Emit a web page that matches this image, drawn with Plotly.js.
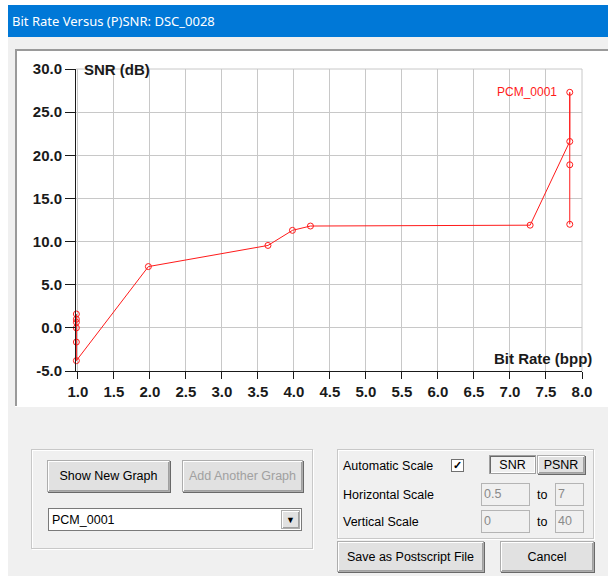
<!DOCTYPE html>
<html>
<head>
<meta charset="utf-8">
<script src="https://cdn.plot.ly/plotly-3.0.1.min.js"></script>
<style>
  html, body { margin:0; padding:0; width:608px; height:576px; overflow:hidden; background:#f0f0f0; }
  body { position:relative; font-family:"Liberation Sans", Arial, sans-serif; }
  .abs { position:absolute; }
  #titlebar { left:8px; top:5px; width:600px; height:32px; background:#0078d7; color:#fff;
     font-family:"Noto Sans","Open Sans",sans-serif; font-size:13px; line-height:32px; }
  #titlebar span { position:absolute; left:4px; top:0; }
  #chart { left:17px; top:51px; width:591px; height:355px; }
  .grp { border:1px solid #c8c8c8; box-shadow: inset 1px 1px 0 #ffffff, 1px 1px 0 #ffffff; box-sizing:border-box; }
  .wbtn { background:#e1e1e1; border:1px solid #adadad; box-sizing:border-box; font-size:12.5px; color:#000;
     display:flex; align-items:center; justify-content:center;
     box-shadow: inset 1px 1px 0 #ffffff, inset -1px -1px 0 #a0a0a0, 1px 1px 0 #696969; }
  .wdis { color:#a0a0a0; }
  .wlbl { font-size:12.5px; color:#000; line-height:14px; }
  .wedit { background:#f0f0f0; border:1px solid #b4b4b4; box-sizing:border-box; font-size:12.5px; color:#8a8a8a; padding-left:2px; line-height:20px; }
  .wcombo { background:#ffffff; border:1px solid #7a7a7a; box-sizing:border-box; font-size:12.5px; color:#000; }
</style>
</head>
<body>
<div class="abs" style="left:0;top:0;width:608px;height:5px;background:#fff;"></div>
<div class="abs" style="left:0;top:0;width:8px;height:576px;background:#fff;"></div>
<div id="titlebar" class="abs"><span>Bit Rate Versus (P)SNR: DSC_0028</span></div>
<div class="abs" style="left:15px;top:49px;width:593px;height:2px;background:#9a9a9a;"></div>
<div class="abs" style="left:15px;top:49px;width:2px;height:357px;background:#9a9a9a;"></div>
<div class="abs" style="left:15px;top:406px;width:593px;height:1px;background:#ffffff;"></div>
<div id="chart" class="abs"></div>

<div class="abs grp" style="left:31px;top:449px;width:282px;height:100px;"></div>
<div class="abs wbtn" style="left:47px;top:460px;width:123px;height:32px;">Show New Graph</div>
<div class="abs wbtn wdis" style="left:182px;top:460px;width:121px;height:32px;">Add Another Graph</div>
<div class="abs wcombo" style="left:48px;top:508px;width:254px;height:23px;">
  <span class="abs" style="left:3px;top:4px;">PCM_0001</span>
  <div class="abs wbtn" style="left:232px;top:1px;width:19px;height:19px;font-size:9px;box-shadow: inset 1px 1px 0 #fff, inset -1px -1px 0 #a0a0a0;">&#9660;</div>
</div>

<div class="abs grp" style="left:337px;top:449px;width:257px;height:90px;"></div>
<div class="abs wlbl" style="left:343px;top:459px;">Automatic Scale</div>
<div class="abs" style="left:451px;top:459px;width:13px;height:13px;background:#fff;border:1px solid #707070;box-sizing:border-box;font-size:11px;line-height:11px;text-align:center;font-weight:bold;">&#10003;</div>
<div class="abs wbtn" style="left:489px;top:455px;width:47px;height:19px;background:#f0f0f0;box-shadow: inset 1px 1px 0 #696969, inset -1px -1px 0 #ffffff;border-color:#a0a0a0;">SNR</div>
<div class="abs wbtn" style="left:537px;top:455px;width:48px;height:19px;">PSNR</div>
<div class="abs wlbl" style="left:343px;top:488px;">Horizontal Scale</div>
<div class="abs wedit" style="left:481px;top:483px;width:49px;height:23px;">0.5</div>
<div class="abs wlbl" style="left:537px;top:488px;">to</div>
<div class="abs wedit" style="left:555px;top:483px;width:29px;height:23px;">7</div>
<div class="abs wlbl" style="left:343px;top:515px;">Vertical Scale</div>
<div class="abs wedit" style="left:481px;top:510px;width:49px;height:23px;">0</div>
<div class="abs wlbl" style="left:537px;top:515px;">to</div>
<div class="abs wedit" style="left:555px;top:510px;width:29px;height:23px;">40</div>
<div class="abs wbtn" style="left:337px;top:541px;width:147px;height:31px;">Save as Postscript File</div>
<div class="abs wbtn" style="left:500px;top:541px;width:94px;height:31px;">Cancel</div>

<script>
// ---- data ----
const seriesName = "PCM_0001";
const bitRate = [0.98, 0.98, 0.98, 0.98, 0.98, 0.98, 1.98, 3.64, 3.98, 4.23, 7.28, 7.83, 7.83, 7.83, 7.83];
const snr     = [1.6, 1.0, 0.65, 0.0, -1.65, -3.8, 7.1, 9.55, 11.3, 11.8, 11.9, 21.6, 27.3, 18.9, 12.0];
const xTicks = [1.0, 1.5, 2.0, 2.5, 3.0, 3.5, 4.0, 4.5, 5.0, 5.5, 6.0, 6.5, 7.0, 7.5, 8.0];
const yTicks = [-5, 0, 5, 10, 15, 20, 25, 30];
const xTitle = "Bit Rate (bpp)";
const yTitle = "SNR (dB)";

// label point: the highest SNR value
let topIdx = 0;
snr.forEach((v, i) => { if (v > snr[topIdx]) topIdx = i; });

const red = "#ff1a1a";
const gridCol = "#c8c8c8";
const trace = {
  x: bitRate, y: snr, type: "scatter", mode: "lines+markers",
  line: { color: red, width: 1 },
  marker: { symbol: "circle-open", size: 6, color: red, line: { width: 1, color: red } },
  cliponaxis: false
};

const tickFont = { family: "Liberation Sans, Arial, sans-serif", size: 15, color: "#1a1a1a", weight: "bold" };
const titleFont = { family: "Liberation Sans, Arial, sans-serif", size: 15, color: "#1a1a1a", weight: "bold" };

const layout = {
  width: 591, height: 355,
  margin: { l: 59, r: 26, t: 18, b: 35 },
  paper_bgcolor: "#ffffff", plot_bgcolor: "#ffffff",
  showlegend: false,
  xaxis: {
    range: [0.975, 8.0], tickvals: xTicks, ticktext: xTicks.map(v => v.toFixed(1)),
    showgrid: true, gridcolor: gridCol, gridwidth: 1, zeroline: false,
    showline: true, linecolor: "#1a1a1a", linewidth: 1,
    ticks: "outside", ticklen: 7, tickcolor: "#1a1a1a", tickwidth: 1,
    tickfont: tickFont
  },
  yaxis: {
    range: [-5, 30], tickvals: yTicks, ticktext: yTicks.map(v => v.toFixed(1)),
    showgrid: true, gridcolor: gridCol, gridwidth: 1, zeroline: false,
    showline: true, linecolor: "#1a1a1a", linewidth: 1,
    ticks: "outside", ticklen: 10, tickcolor: "#1a1a1a", tickwidth: 1,
    tickfont: tickFont
  },
  shapes: [
    { type: "line", xref: "paper", yref: "paper", x0: 0, x1: 1, y0: 1, y1: 1, line: { color: gridCol, width: 1 }, layer: "below" },
    { type: "line", xref: "paper", yref: "paper", x0: 1, x1: 1, y0: 0, y1: 1, line: { color: gridCol, width: 1 }, layer: "below" }
  ],
  annotations: [
    { xref: "paper", yref: "paper", x: 0, y: 1, xanchor: "left", yanchor: "middle",
      xshift: 6, yshift: 0, text: yTitle, showarrow: false, font: titleFont },
    { xref: "paper", yref: "paper", x: 1, y: 0, xanchor: "right", yanchor: "middle",
      xshift: 12, yshift: 13, text: xTitle, showarrow: false, font: titleFont },
    { xref: "x", yref: "y", x: bitRate[topIdx], y: snr[topIdx], xanchor: "right", yanchor: "middle",
      xshift: -11, text: seriesName, showarrow: false,
      font: { family: "Liberation Sans, Arial, sans-serif", size: 12, color: red } }
  ]
};

Plotly.newPlot("chart", [trace], layout, { staticPlot: true, displayModeBar: false });
</script>
</body>
</html>
